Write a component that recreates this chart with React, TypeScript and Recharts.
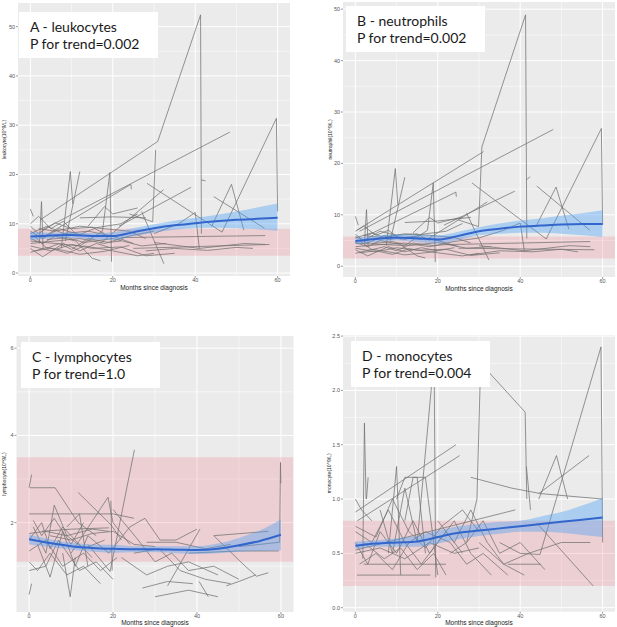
import React from 'react';
import { ComposedChart, Line, Area, XAxis, YAxis, CartesianGrid, ReferenceArea, Label } from 'recharts';

type Pt = [number, number];

const monthTicks = [0, 20, 40, 60];
const monthMinor = [10, 30, 50];
const fitMonths = [0, 5, 10, 15, 20, 25, 30, 35, 40, 45, 50, 55, 60];

// ---------- A: leukocytes ----------
const leukocyteTicks = [0, 10, 20, 30, 40, 50];
const leukocyteMinor = [5, 15, 25, 35, 45];
const leukocyteRef = [3.5, 9];
const leukocyteFit = [7.4, 7.6, 7.7, 7.5, 7.5, 8.3, 9.1, 9.7, 10.1, 10.5, 10.8, 11.0, 11.2];
const leukocyteLower = [6.6, 7.0, 7.1, 6.8, 6.7, 7.5, 8.2, 8.8, 9.1, 9.2, 9.1, 8.9, 8.6];
const leukocyteUpper = [8.4, 8.2, 8.3, 8.1, 8.3, 9.1, 9.9, 10.6, 11.2, 11.8, 12.5, 13.3, 14.1];
const leukocyteTrajectories: Pt[][] = [
  [[2.4, 10.8], [30.9, 26.7], [41.3, 52.4], [41.5, 8.0]],
  [[24, 12], [29.7, 10.4], [30.4, 25]],
  [[3, 8.8], [48.4, 28.6]],
  [[28.3, 18.2], [46.5, 8.3], [59.7, 31.4], [60, 12.5]],
  [[0, 6.5], [12, 5.5], [17.5, 8.5], [19.3, 20.4], [19.7, 2.3]],
  [[7.5, 5], [9.7, 20.6], [10.3, 14]],
  [[8.5, 6.5], [12, 20.6]],
  [[3.5, 7.5], [24.4, 18], [24.5, 17]],
  [[21.5, 9.5], [39, 17.4]],
  [[17, 6], [32.3, 16.9]],
  [[27, 12.5], [32.4, 1.9]],
  [[41.5, 18.9], [42.5, 18.7]],
  [[44.5, 15.5], [56.8, 9.1]],
  [[44, 9.5], [48.8, 18], [51.8, 8.7]],
  [[12, 11.2], [20, 11.4], [28, 11.2]],
  [[2.2, 6], [2.7, 14.5], [3.1, 5]],
  [[0, 13], [0.7, 11.5]],
  [[25, 5], [58, 5.8]],
  [[22, 7.2], [57, 7.6]],
  [[28, 4.5], [35, 5], [43, 4.6], [50, 5.2], [54, 5]],
  [[30, 6.2], [41, 5], [52, 6], [57, 5.8]],
  [[0, 5], [3, 3.3], [8, 6], [12, 4.5], [16, 6], [20, 5]],
  [[0, 8], [4, 9.5], [8, 8], [14, 8.5], [20, 7.5], [25, 6]],
  [[0, 9.5], [2, 8], [6, 10.2], [10, 9], [15, 9.3], [18, 8]],
  [[0, 7], [3, 6], [6, 7.5], [11, 6.5], [15, 3], [17, 2.5]],
  [[1, 4.5], [5, 5], [9, 4], [13, 5.5], [20, 4.5], [26, 3.5], [30, 4]],
  [[0, 6], [6, 6.5], [12, 7], [18, 6], [24, 7.5], [30, 8.5]],
  [[0, 10], [2, 11.5], [5, 9], [8, 10.5], [11, 8]],
  [[1, 7.5], [4, 5], [7, 6], [10, 4.8], [14, 7], [19, 6.2], [22, 6.5]],
  [[0, 5.5], [5, 4.5], [10, 5.8], [15, 5], [22, 5.3], [28, 3.5], [35, 4]],
  [[2, 9], [6, 8.5], [12, 9.5], [18, 9], [24, 8.5], [28, 7]],
  [[0, 8.5], [3, 7], [7, 9], [12, 7.8], [16, 9.2], [22, 10], [26, 12]],
  [[14, 9.5], [18, 13.5], [20, 12], [26, 13.2]],
  [[30, 8], [36, 10], [40, 12.3], [41, 5]],
  [[4, 6.8], [9, 7.2], [13, 6.2], [20, 7], [27, 5.5], [33, 6]],
  [[0, 4.2], [4, 5.2], [8, 4.6], [12, 3.8], [18, 4.4], [24, 5.6]],
];

// ---------- B: neutrophils ----------
const neutrophilTicks = [0, 10, 20, 30, 40, 50];
const neutrophilMinor = [5, 15, 25, 35, 45];
const neutrophilRef = [1.5, 5.8];
const neutrophilFit = [4.9, 5.3, 5.6, 5.4, 5.2, 5.9, 6.8, 7.3, 7.7, 7.9, 8.1, 8.2, 8.2];
const neutrophilLower = [4.2, 4.7, 5.0, 4.7, 4.4, 5.1, 6.0, 6.3, 6.5, 6.5, 6.3, 6.0, 5.7];
const neutrophilUpper = [5.6, 5.9, 6.2, 6.1, 6.0, 6.7, 7.6, 8.3, 8.9, 9.3, 9.8, 10.3, 10.9];
const neutrophilTrajectories: Pt[][] = [
  [[0.4, 7], [31.1, 22.3]],
  [[25, 9], [29.9, 7.7], [30.7, 23.2], [41.3, 48.9], [41.6, 5.4]],
  [[1, 6.8], [48, 26.6]],
  [[28.3, 16.2], [46.3, 5.3], [59.7, 26.8], [60, 8]],
  [[0, 4.5], [12, 4], [17.5, 7], [18.9, 16.2], [19.4, 0.8]],
  [[7.5, 4], [9.7, 19], [10.3, 12]],
  [[8.5, 5], [12, 17.3]],
  [[3, 6], [24.4, 14.4], [24.5, 13.5]],
  [[21.5, 8], [38.7, 14.6]],
  [[17, 5], [32, 12.5]],
  [[27, 10.3], [32.4, 1.2]],
  [[41.5, 16.8], [42.4, 17.4]],
  [[44, 15.6], [56.9, 7]],
  [[44, 8], [48.7, 15.4], [51.8, 7.2]],
  [[12, 8.5], [20, 8.8], [28, 9.5]],
  [[2.2, 4.5], [2.7, 11], [3.1, 4]],
  [[0, 9.7], [0.7, 8]],
  [[25, 3.5], [58, 3.2]],
  [[22, 4.2], [57, 4.8]],
  [[28, 2.2], [35, 3], [43, 2.8], [50, 3.3], [54, 2.8]],
  [[30, 4], [41, 3], [52, 4], [57, 3.8]],
  [[0, 3.2], [3, 2], [8, 3.8], [12, 2.8], [16, 3.6], [20, 3]],
  [[0, 5.5], [4, 6.5], [8, 5.2], [14, 5.8], [20, 5], [25, 3.8]],
  [[0, 6.2], [2, 5], [6, 6.8], [10, 6], [15, 6.3], [18, 5]],
  [[0, 4.6], [3, 3.8], [6, 5], [11, 4.2], [15, 2], [17, 1.6]],
  [[1, 2.6], [5, 3], [9, 2.3], [13, 3.4], [20, 2.6], [26, 2], [30, 2.5]],
  [[0, 3.8], [6, 4.2], [12, 4.5], [18, 3.8], [24, 4.8], [30, 5.5]],
  [[0, 6.8], [2, 7.8], [5, 6], [8, 7], [11, 5.2]],
  [[1, 5], [4, 3.2], [7, 3.8], [10, 3], [14, 4.5], [19, 4], [22, 4.2]],
  [[0, 3.5], [5, 2.8], [10, 3.6], [15, 3.1], [22, 3.3], [28, 2.1], [35, 2.6]],
  [[2, 6], [6, 5.6], [12, 6.3], [18, 6], [24, 5.6], [28, 4.5]],
  [[0, 5.8], [3, 4.5], [7, 6], [12, 5.2], [16, 6.2], [22, 6.8], [26, 8.3]],
  [[14, 6.5], [18, 9.5], [20, 8.4], [26, 9.6]],
  [[30, 5.5], [36, 7], [40, 8.4], [41, 3]],
  [[4, 4.4], [9, 4.8], [13, 4], [20, 4.6], [27, 3.5], [33, 3.8]],
  [[0, 2.5], [4, 3.3], [8, 2.8], [12, 2.2], [18, 2.7], [24, 3.6]],
];

// ---------- C: lymphocytes ----------
const lymphocyteTicks = [2, 4, 6];
const lymphocyteMinor = [1, 3, 5];
const lymphocyteRef = [1.1, 3.5];
const lymphocyteFit = [1.62, 1.53, 1.46, 1.42, 1.4, 1.39, 1.39, 1.38, 1.37, 1.4, 1.48, 1.58, 1.72];
const lymphocyteLower = [1.5, 1.44, 1.38, 1.34, 1.31, 1.32, 1.32, 1.3, 1.28, 1.3, 1.33, 1.35, 1.36];
const lymphocyteUpper = [1.73, 1.62, 1.54, 1.5, 1.49, 1.46, 1.46, 1.46, 1.46, 1.52, 1.65, 1.82, 2.07];
const lymphocyteTrajectories: Pt[][] = [
  [[0, 2.8], [0.6, 3.1]],
  [[0.2, 2.8], [6.2, 2.8], [11.7, 2.0], [16, 1.7]],
  [[14, 1.5], [19.3, 0.88], [25.1, 3.67]],
  [[50, 1.45], [59.7, 1.55], [59.9, 3.38], [60, 2.9]],
  [[11.7, 2.69], [19.5, 1.95], [22, 1.6]],
  [[10, 1.3], [18.8, 2.58], [20, 2.0], [24, 1.5]],
  [[0, 2.2], [10, 2.2], [20, 2.2], [25, 2.1]],
  [[3, 1.8], [10, 1.85], [19, 1.88]],
  [[24, 1.9], [27.6, 2.1], [31.2, 1.6], [35, 1.6], [40, 1.85]],
  [[40.5, 0.65], [42.7, 0.3]],
  [[30, 0.3], [38, 0.45], [45, 0.3]],
  [[44, 1.7], [51.5, 1.0], [54.2, 0.77], [57, 0.85]],
  [[33, 0.55], [40.7, 1.85]],
  [[44, 1.7], [57, 1.8]],
  [[38, 1.3], [50, 1.35], [59.5, 1.35]],
  [[8, 1.3], [9.8, 0.3], [11, 1.2]],
  [[0, 0.35], [0.6, 0.6]],
  [[0, 1.6], [3, 2.0], [5, 1.4], [8, 1.9], [12, 1.5], [15, 1.2]],
  [[0, 1.1], [2, 0.9], [5, 1.3], [9, 0.8], [13, 1.0], [17, 0.6]],
  [[1, 1.9], [4, 1.3], [6, 2.4], [9, 1.7], [13, 1.4], [18, 1.6]],
  [[0, 0.9], [4, 1.0], [7, 1.6], [12, 0.9], [16, 1.1], [20, 0.7]],
  [[2, 1.5], [5, 0.75], [8, 1.8], [11, 1.0], [14, 1.7], [19, 1.3], [24, 1.9]],
  [[20, 2.3], [26, 1.6], [30, 1.1], [34, 1.3], [38, 0.9], [44, 1.0], [50, 0.7]],
  [[22, 1.2], [28, 0.8], [33, 1.0], [38, 1.1], [45, 0.8]],
  [[25, 1.3], [31, 1.4], [36, 0.9], [42, 0.7], [48, 0.6]],
  [[27, 0.5], [33, 0.65], [39, 0.6]],
  [[5, 1.7], [10, 1.6], [15, 1.75], [20, 1.8], [25, 1.5], [30, 1.45]],
  [[1, 2.05], [3, 1.7], [6, 2.1], [10, 1.5], [13, 2.0]],
  [[19.5, 2.5], [19.8, 0.9]],
  [[0, 1.35], [4, 1.6], [8, 1.0], [13, 1.3], [17, 0.9], [21, 1.2]],
  [[28, 1.55], [35, 1.55], [42, 1.4], [48, 1.5]],
  [[47, 0.55], [50, 0.65], [54, 0.8]],
  [[9, 1.9], [12, 2.2], [14, 1.0]],
  [[0, 1.75], [4, 1.8], [9, 1.7], [15, 1.85], [19, 1.8]],
];

// ---------- D: monocytes ----------
const monocyteTicks = [0, 0.5, 1, 1.5, 2, 2.5];
const monocyteMinor = [0.25, 0.75, 1.25, 1.75, 2.25];
const monocyteRef = [0.2, 0.8];
const monocyteFit = [0.57, 0.59, 0.6, 0.61, 0.65, 0.69, 0.71, 0.73, 0.75, 0.77, 0.79, 0.81, 0.83];
const monocyteLower = [0.54, 0.56, 0.56, 0.56, 0.59, 0.63, 0.66, 0.68, 0.7, 0.7, 0.69, 0.67, 0.65];
const monocyteUpper = [0.61, 0.62, 0.64, 0.66, 0.71, 0.75, 0.77, 0.79, 0.8, 0.84, 0.88, 0.94, 1.01];
const monocyteTrajectories: Pt[][] = [
  [[44.8, 0.49], [59.6, 2.4], [60, 0.6]],
  [[27, 0.6], [29.5, 1.0], [30.4, 2.25], [41.2, 1.8], [41.6, 1.0]],
  [[15, 0.6], [19.1, 2.3], [19.5, 0.28]],
  [[1.8, 0.45], [2.2, 1.7], [2.6, 1.0]],
  [[2.7, 1.0], [3.1, 1.2]],
  [[0, 0.88], [24.4, 1.5]],
  [[0.5, 0.8], [25.3, 1.4]],
  [[28, 1.2], [38, 1.1], [45, 1.05], [60, 1.0]],
  [[44.5, 1.0], [48.8, 1.4], [51.5, 1.0]],
  [[44.5, 1.05], [56.7, 1.4]],
  [[41.5, 1.3], [42.5, 0.9]],
  [[35, 0.6], [40, 0.5], [44.8, 0.49]],
  [[0.4, 0.3], [18.2, 0.3]],
  [[2, 0.4], [22, 0.4]],
  [[44, 0.78], [57.7, 0.2]],
  [[0, 1.0], [1.5, 0.9], [4, 0.8]],
  [[8, 0.5], [10, 1.3], [11, 0.3]],
  [[12, 0.8], [14, 1.2], [17, 1.2], [20, 0.3]],
  [[0, 0.53], [38.8, 0.9]],
  [[30, 0.6], [36, 0.4], [42, 0.5], [50, 0.6], [57, 0.6]],
  [[37, 0.4], [45, 0.4]],
  [[0, 0.6], [3, 0.4], [6, 0.7], [10, 0.5], [14, 0.8], [18, 0.5], [22, 0.7], [26, 0.5]],
  [[0, 0.7], [4, 0.6], [8, 0.9], [12, 0.6], [16, 0.4], [20, 0.6], [24, 0.8], [28, 0.5], [33, 0.3]],
  [[1, 0.4], [5, 0.5], [9, 0.35], [13, 0.6], [17, 0.7], [23, 0.6], [27, 0.4], [31, 0.5], [37, 0.3]],
  [[0, 0.75], [5, 0.65], [9, 1.0], [13, 0.7], [17, 0.55], [21, 0.75], [26, 0.9], [30, 0.7]],
  [[6, 0.9], [9, 0.5], [12, 1.1], [15, 0.6]],
  [[20, 0.8], [24, 0.6], [28, 0.9], [32, 0.6], [36, 0.4], [41, 0.3]],
  [[23, 0.5], [27, 0.6], [31, 0.8], [35, 0.5], [40, 0.6], [46, 0.35]],
  [[2, 0.6], [7, 0.45], [11, 0.55], [15, 0.35], [19, 0.5], [22, 0.3]],
  [[10, 1.0], [12, 1.2], [15, 1.2], [17, 0.5]],
  [[0, 0.5], [6, 0.55], [12, 0.45], [18, 0.6], [24, 0.5], [30, 0.55]],
];

type PanelProps = {
  left: number; top: number; width: number; height: number;
  marginTop: number; marginRight: number;
  yAxisWidth: number; xAxisHeight: number;
  yDomain: [number, number]; yTicks: number[]; yMinor: number[];
  yFormat?: (v: number) => string;
  refBand: number[];
  fit: number[]; lower: number[]; upper: number[];
  traj: Pt[][];
  yLabel: string; yLabelOffset: number; xLabelOffset: number;
  box: { left: number; top: number; title: string; p: string };
};

const toXY = (t: Pt[]) => t.map(([x, y]) => ({ x, y }));

function Panel(props: PanelProps) {
  const fitData = fitMonths.map((m, i) => ({ x: m, y: props.fit[i], band: [props.lower[i], props.upper[i]] }));
  const tickStyle = { fontSize: 5.5, fill: '#555', fontFamily: 'Liberation Sans, Arial, sans-serif' };
  return (
    <div style={{ position: 'absolute', left: props.left, top: props.top, width: props.width, height: props.height }}>
      <ComposedChart
        width={props.width}
        height={props.height}
        margin={{ top: props.marginTop, right: props.marginRight, left: 0, bottom: 0 }}
      >
        <CartesianGrid
          fill="#ebebeb"
          stroke="#ffffff"
          strokeWidth={0.5}
          horizontalValues={props.yMinor}
          verticalValues={monthMinor}
        />
        <CartesianGrid
          stroke="#ffffff"
          strokeWidth={1}
          horizontalValues={props.yTicks}
          verticalValues={monthTicks}
        />
        <XAxis
          type="number"
          dataKey="x"
          domain={[-3, 63]}
          ticks={monthTicks}
          allowDataOverflow
          axisLine={false}
          tickLine={{ stroke: '#555', strokeWidth: 0.6 }}
          tickSize={2}
          tickMargin={0}
          height={props.xAxisHeight}
          tick={tickStyle}
          interval={0}
        >
          <Label
            value="Months since diagnosis"
            position="insideBottom"
            offset={props.xLabelOffset}
            style={{ fontSize: 6.5, fill: '#222', fontFamily: 'Liberation Sans, Arial, sans-serif' }}
          />
        </XAxis>
        <YAxis
          type="number"
          domain={props.yDomain}
          ticks={props.yTicks}
          allowDataOverflow
          axisLine={false}
          tickLine={{ stroke: '#555', strokeWidth: 0.6 }}
          tickSize={2}
          tickMargin={1}
          width={props.yAxisWidth}
          tick={tickStyle}
          tickFormatter={props.yFormat}
          interval={0}
        >
          <Label
            value={props.yLabel}
            angle={-90}
            position="insideLeft"
            offset={props.yLabelOffset}
            style={{ fontSize: 5, fill: '#222', textAnchor: 'middle', fontFamily: 'Liberation Sans, Arial, sans-serif' }}
          />
        </YAxis>
        <ReferenceArea
          y1={props.refBand[0]}
          y2={props.refBand[1]}
          x1={-3}
          x2={63}
          fill="#f06070"
          fillOpacity={0.2}
          stroke="none"
          ifOverflow="hidden"
        />
        {props.traj.map((t, i) => (
          <Line
            key={'t' + i}
            data={toXY(t)}
            dataKey="y"
            type="linear"
            stroke="#727272"
            strokeWidth={0.75}
            dot={false}
            activeDot={false}
            isAnimationActive={false}
          />
        ))}
        <Area
          data={fitData}
          dataKey="band"
          type="monotone"
          fill="#4a9ff5"
          fillOpacity={0.4}
          stroke="none"
          isAnimationActive={false}
          zIndex={450}
        />
        <Line
          data={fitData}
          dataKey="y"
          type="monotone"
          stroke="#3366cc"
          strokeWidth={2}
          dot={false}
          activeDot={false}
          isAnimationActive={false}
          zIndex={460}
        />
      </ComposedChart>
      <div
        style={{
          position: 'absolute',
          left: props.box.left,
          top: props.box.top,
          width: 139,
          height: 46,
          background: '#ffffff',
          boxSizing: 'border-box',
          padding: '6px 0 0 11px',
          fontFamily: 'Lato, "Open Sans", sans-serif',
          fontSize: 14,
          lineHeight: '17px',
          color: '#1a1a1a',
          whiteSpace: 'nowrap',
        }}
      >
        <div>{props.box.title}</div>
        <div>{props.box.p}</div>
      </div>
    </div>
  );
}

export default function App() {
  return (
    <div style={{ position: 'absolute', left: 0, top: 0, width: 617, height: 627, overflow: 'hidden', background: '#ffffff' }}>
      <Panel
        left={0} top={0} width={300} height={300}
        marginTop={3} marginRight={10} yAxisWidth={18} xAxisHeight={24}
        yDomain={[-0.6, 54.8]} yTicks={leukocyteTicks} yMinor={leukocyteMinor}
        refBand={leukocyteRef}
        fit={leukocyteFit} lower={leukocyteLower} upper={leukocyteUpper}
        traj={leukocyteTrajectories}
        yLabel="leukocyte(10^9/L)" yLabelOffset={4.5} xLabelOffset={10.5}
        box={{ left: 19, top: 12, title: 'A - leukocytes', p: 'P for trend=0.002' }}
      />
      <Panel
        left={310} top={0} width={307} height={300}
        marginTop={2} marginRight={2} yAxisWidth={33} xAxisHeight={23}
        yDomain={[-2.1, 51.4]} yTicks={neutrophilTicks} yMinor={neutrophilMinor}
        refBand={neutrophilRef}
        fit={neutrophilFit} lower={neutrophilLower} upper={neutrophilUpper}
        traj={neutrophilTrajectories}
        yLabel="neutrophil(10^9/L)" yLabelOffset={20} xLabelOffset={9}
        box={{ left: 36, top: 6, title: 'B - neutrophils', p: 'P for trend=0.002' }}
      />
      <Panel
        left={0} top={330} width={300} height={297}
        marginTop={6} marginRight={6.5} yAxisWidth={16.5} xAxisHeight={15}
        yDomain={[-0.05, 6.28]} yTicks={lymphocyteTicks} yMinor={lymphocyteMinor}
        refBand={lymphocyteRef}
        fit={lymphocyteFit} lower={lymphocyteLower} upper={lymphocyteUpper}
        traj={lymphocyteTrajectories}
        yLabel="lymphocyte(10^9/L)" yLabelOffset={4.7} xLabelOffset={2}
        box={{ left: 21, top: 12, title: 'C - lymphocytes', p: 'P for trend=1.0' }}
      />
      <Panel
        left={310} top={330} width={307} height={297}
        marginTop={5} marginRight={2} yAxisWidth={33} xAxisHeight={15.3}
        yDomain={[-0.037, 2.51]} yTicks={monocyteTicks} yMinor={monocyteMinor}
        yFormat={(v: number) => v.toFixed(1)}
        refBand={monocyteRef}
        fit={monocyteFit} lower={monocyteLower} upper={monocyteUpper}
        traj={monocyteTrajectories}
        yLabel="monocyte(10^9/L)" yLabelOffset={19} xLabelOffset={2}
        box={{ left: 41, top: 11, title: 'D - monocytes', p: 'P for trend=0.004' }}
      />
    </div>
  );
}
